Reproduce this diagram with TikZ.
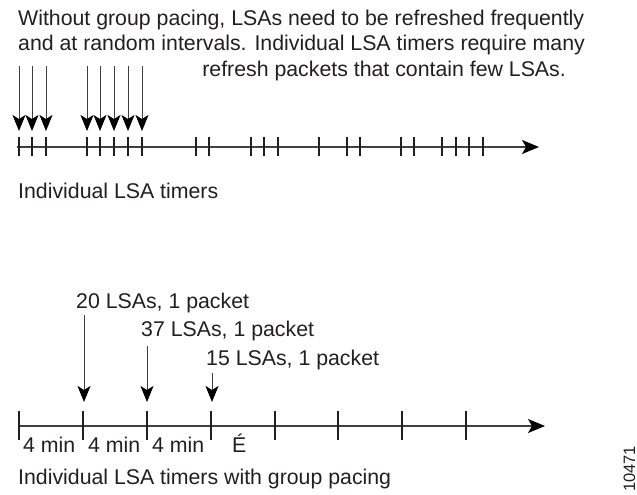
\documentclass[tikz,border=0pt]{standalone}
\usepackage{fontspec}
\setmainfont{Liberation Sans}
\usetikzlibrary{arrows.meta}
\definecolor{textc}{HTML}{231F20}
\definecolor{linec}{HTML}{404040}
\begin{document}
\begin{tikzpicture}[x=1pt,y=-1pt,
  txt/.style={font=\fontsize{21.3}{25}\selectfont, text=textc, inner sep=0pt, anchor=base west},
  axisline/.style={draw=linec, line width=1.3pt, -{Stealth[length=17pt,width=14pt,inset=4pt,color=black]}},
  tickmark/.style={draw=textc, line width=2.6pt},
  downarrow/.style={draw=linec, line width=1pt, -{Stealth[length=16pt,width=13pt,inset=4pt,color=black]}}]
\useasboundingbox (0,0) rectangle (637,495);

% top text
\node[txt] (l1) at (18,26) {Without group pacing, LSAs need to be refreshed frequently};
\node[txt] (l2) at (18,51) {and at random intervals. Individual LSA timers require many};
\node[txt, anchor=base east] (l3) at (566,77) {refresh packets that contain few LSAs.};

% top timeline
\coordinate (ta0) at (17,147);
\coordinate (ta1) at (539,147);
\draw[axisline] (ta0) -- (ta1);
\foreach \x [count=\i] in {19,32,46,87,100,114,128,142,196,209,251,264,278,319,347,360,401,414,442,456,469,483} {
  \coordinate (tt\i) at (\x,137);
  \coordinate (tb\i) at (\x,156);
  \draw[tickmark] (tt\i) -- (tb\i);
}
\foreach \x [count=\i] in {19,32,46,87,100,114,128,142} {
  \coordinate (ts\i) at (\x,66);
  \coordinate (te\i) at (\x,131);
  \draw[downarrow] (ts\i) -- (te\i);
}
\node[txt] (cap1) at (18,198) {Individual LSA timers};

% bottom timeline
\coordinate (ba0) at (19,426);
\coordinate (ba1) at (545,426);
\draw[axisline] (ba0) -- (ba1);
\foreach \x [count=\i] in {19,83,147,211,275,338,402,466} {
  \coordinate (bt\i) at (\x,411);
  \coordinate (bb\i) at (\x,440);
  \draw[tickmark] (bt\i) -- (bb\i);
}
\node[txt] (p1) at (76,308) {20 LSAs, 1 packet};
\node[txt] (p2) at (141,336) {37 LSAs, 1 packet};
\node[txt] (p3) at (206,365) {15 LSAs, 1 packet};
\coordinate (a1s) at (84,315);
\coordinate (a1e) at (84,402);
\coordinate (a2s) at (147,346);
\coordinate (a2e) at (147,402);
\coordinate (a3s) at (212,373);
\coordinate (a3e) at (212,402);
\draw[downarrow] (a1s) -- (a1e);
\draw[downarrow] (a2s) -- (a2e);
\draw[downarrow] (a3s) -- (a3e);

\node[txt] (m1) at (23,452) {4 min};
\node[txt] (m2) at (88,452) {4 min};
\node[txt] (m3) at (152,452) {4 min};
\node[txt] (dots) at (232,452) {É};

\node[txt] (cap2) at (18,484) {Individual LSA timers with group pacing};
\node[txt, font=\fontsize{16.5}{18}\selectfont, rotate=90] (num) at (635,492) {10471};
\end{tikzpicture}
\end{document}
